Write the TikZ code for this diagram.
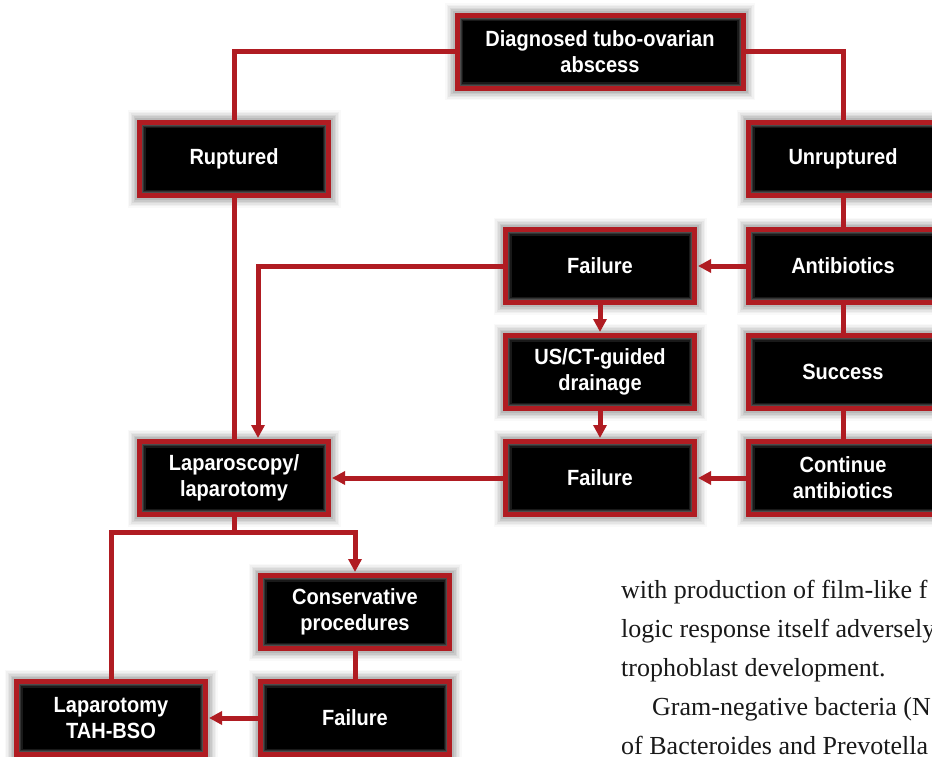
\documentclass[tikz,border=0pt]{standalone}
\usepackage{fontspec}
\setmainfont{Liberation Serif}
\newfontfamily\boxfont{Liberation Sans}[FakeStretch=0.91]
\usetikzlibrary{arrows.meta}
\definecolor{tred}{RGB}{176,28,34}
\tikzset{
  tbox/.style={rectangle, minimum width=189pt, minimum height=73pt, inner sep=0pt,
    fill=black, draw=tred, line width=5pt, text=white, align=center,
    font=\boxfont\bfseries\fontsize{22}{26}\selectfont,
    preaction={draw=black, opacity=0.025, line width=24pt},
    preaction={draw=black, opacity=0.035, line width=21pt},
    preaction={draw=black, opacity=0.045, line width=18pt},
    preaction={draw=black, opacity=0.055, line width=15pt},
    preaction={draw=black, opacity=0.065, line width=12pt},
    preaction={draw=black, opacity=0.08, line width=9pt},
    path picture={
      \draw[black!90, line width=12pt] (path picture bounding box.south west) rectangle (path picture bounding box.north east);
      \draw[black!80, line width=9pt] (path picture bounding box.south west) rectangle (path picture bounding box.north east);
      \draw[black!70, line width=7pt] (path picture bounding box.south west) rectangle (path picture bounding box.north east);
    }},
  conn/.style={draw=tred, line width=5pt},
  arr/.style={conn, -{Triangle[length=13pt,width=13pt]}, shorten >=1pt},
  bodytext/.style={anchor=base west, inner sep=0pt, font=\fontsize{26}{39}\selectfont, text=black!90}
}
\begin{document}
\begin{tikzpicture}[x=1pt,y=-1pt]
\useasboundingbox (0,0) rectangle (932,757);
\clip (0,0) rectangle (932,757);
\fill[white] (0,0) rectangle (932,757);

\node[tbox, minimum width=286pt] (diag) at (600,52) {Diagnosed tubo-ovarian\\abscess};
\node[tbox] (rup) at (234,159) {Ruptured};
\node[tbox] (unr) at (843,159) {Unruptured};
\node[tbox] (fail1) at (600,266) {Failure};
\node[tbox] (anti) at (843,266) {Antibiotics};
\node[tbox] (usct) at (600,372) {US/CT-guided\\drainage};
\node[tbox] (succ) at (843,372) {Success};
\node[tbox] (lap) at (234,478) {Laparoscopy/\\laparotomy};
\node[tbox] (fail2) at (600,478) {Failure};
\node[tbox] (cont) at (843,478) {Continue\\antibiotics};
\node[tbox] (cons) at (355,612) {Conservative\\procedures};
\node[tbox] (tah) at (111,718) {Laparotomy\\TAH-BSO};
\node[tbox] (fail3) at (355,718) {Failure};

\draw[conn] (diag.west) -| (rup.north);
\draw[conn] (diag.east) -| (unr.north);
\draw[conn] (unr.south) -- (anti.north);
\draw[conn] (anti.south) -- (succ.north);
\draw[conn] (succ.south) -- (cont.north);
\draw[arr] (anti.west) -- (fail1.east);
\draw[arr] (fail1.south) -- (usct.north);
\draw[arr] (usct.south) -- (fail2.north);
\draw[arr] (cont.west) -- (fail2.east);
\draw[arr] (fail2.west) -- (lap.east);
\draw[arr] (fail1.west) -| ([xshift=24pt]lap.north);
\draw[conn] (rup.south) -- (lap.north);
\coordinate (split) at (234,532);
\draw[conn] (lap.south) -- (split);
\draw[conn] (split) -| (tah.north);
\draw[arr] (split) -| (cons.north);
\draw[conn] (cons.south) -- (fail3.north);
\draw[arr] (fail3.west) -- (tah.east);

\node[bodytext] (t1) at (621,598) {with production of film-like f};
\node[bodytext] (t2) at (621,637) {logic response itself adversely};
\node[bodytext] (t3) at (621,676) {trophoblast development.};
\node[bodytext] (t4) at (652,715) {Gram-negative bacteria (N};
\node[bodytext] (t5) at (621,754) {of Bacteroides and Prevotella};
\end{tikzpicture}
\end{document}
